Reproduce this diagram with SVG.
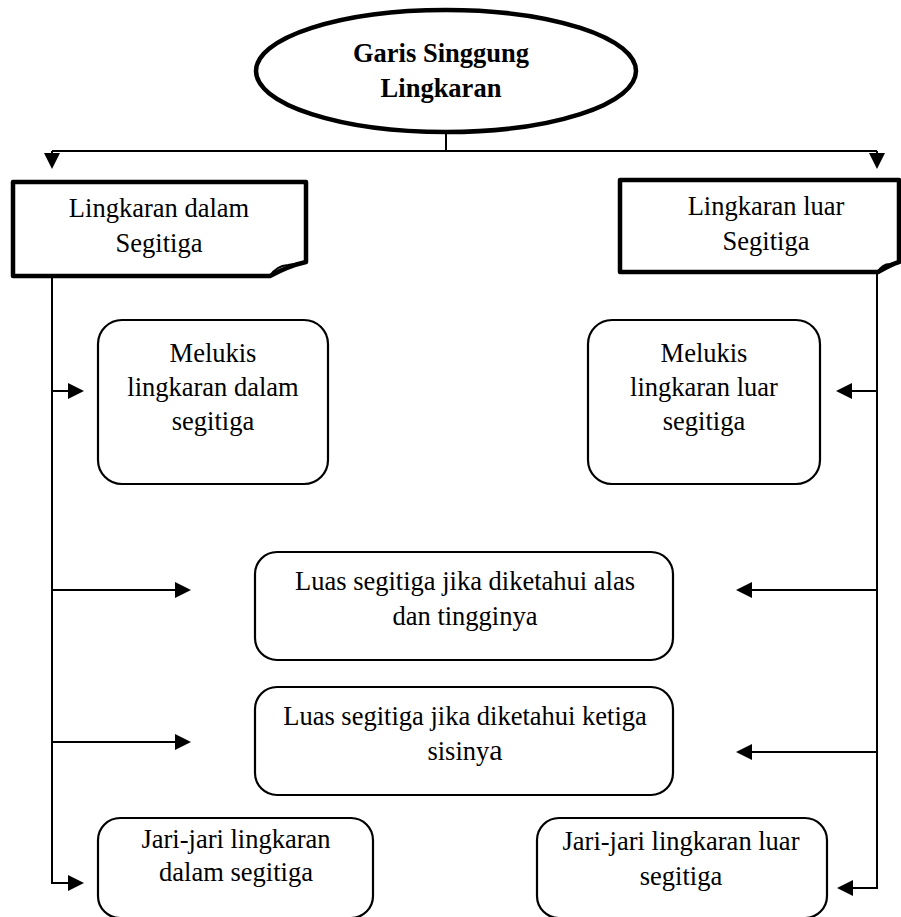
<svg xmlns="http://www.w3.org/2000/svg" width="901" height="917" viewBox="0 0 901 917">
<defs>
<style>
.t{font-family:"Liberation Serif","Times New Roman",serif;font-size:26.5px;fill:#000;text-anchor:middle}
.b{font-weight:bold}
.hdr{fill:#fff;stroke:#000;stroke-width:4.5;stroke-linejoin:round}
.rb{fill:#fff;stroke:#000;stroke-width:2.2}
.ln{fill:none;stroke:#000;stroke-width:2}
.ah{fill:#000;stroke:none}
</style>
</defs>
<rect width="901" height="917" fill="#fff"/>
<g id="connectors">
<path class="ln" d="M446,133 V151 M52,151 H877"/>
<path class="ln" d="M52,151 V156 M877,151 V156"/>
<polygon class="ah" points="44,153 60,153 52,169"/>
<polygon class="ah" points="869,153 885,153 877,169"/>
<path class="ln" d="M52,276 V883 H70"/>
<path class="ln" d="M52,391 H70"/>
<polygon class="ah" points="68,383 84,391 68,399"/>
<path class="ln" d="M52,590 H177"/>
<polygon class="ah" points="175,582 191,590 175,598"/>
<path class="ln" d="M52,742 H177"/>
<polygon class="ah" points="175,734 191,742 175,750"/>
<polygon class="ah" points="68,875 84,883 68,891"/>
<path class="ln" d="M877,272 V888 H851"/>
<path class="ln" d="M877,391 H850"/>
<polygon class="ah" points="852,383 836,391 852,399"/>
<path class="ln" d="M877,590 H750"/>
<polygon class="ah" points="752,582 736,590 752,598"/>
<path class="ln" d="M877,752 H750"/>
<polygon class="ah" points="752,744 736,752 752,760"/>
<polygon class="ah" points="853,880 837,888 853,896"/>
</g>
<g id="root">
<ellipse cx="446" cy="71" rx="190" ry="61" fill="#fff" stroke="#000" stroke-width="4.5"/>
<text class="t b" x="441" y="62">Garis Singgung</text>
<text class="t b" x="441" y="97">Lingkaran</text>
</g>
<g id="dalam">
<path class="hdr" d="M13,182 H306 V262 Q288,266 270,276 H13 Z"/>
<path fill="none" stroke="#000" stroke-width="2" d="M270,276 Q276,266 288,265 L306,262"/>
<text class="t" x="159" y="217">Lingkaran dalam</text>
<text class="t" x="159" y="252">Segitiga</text>
</g>
<g id="luar">
<path class="hdr" d="M620,180 H899 V262 Q892,264 878,272 H620 Z"/>
<path fill="none" stroke="#000" stroke-width="2" d="M878,272 Q882,264 890,264 L899,262"/>
<text class="t" x="766" y="215">Lingkaran luar</text>
<text class="t" x="766" y="250">Segitiga</text>
</g>
<g id="melukis-dalam">
<rect class="rb" x="98" y="320" width="230" height="164" rx="24"/>
<text class="t" x="213" y="362">Melukis</text>
<text class="t" x="213" y="396">lingkaran dalam</text>
<text class="t" x="213" y="430">segitiga</text>
</g>
<g id="melukis-luar">
<rect class="rb" x="588" y="320" width="232" height="164" rx="24"/>
<text class="t" x="704" y="362">Melukis</text>
<text class="t" x="704" y="396">lingkaran luar</text>
<text class="t" x="704" y="430">segitiga</text>
</g>
<g id="luas-alas">
<rect class="rb" x="255" y="552" width="418" height="108" rx="22"/>
<text class="t" x="465" y="590">Luas segitiga jika diketahui alas</text>
<text class="t" x="465" y="625">dan tingginya</text>
</g>
<g id="luas-sisi">
<rect class="rb" x="255" y="687" width="418" height="108" rx="22"/>
<text class="t" x="465" y="725">Luas segitiga jika diketahui ketiga</text>
<text class="t" x="465" y="760">sisiny<tspan font-size="30">a</tspan></text>
</g>
<g id="jari-dalam">
<rect class="rb" x="98" y="818" width="275" height="100" rx="22"/>
<text class="t" x="236" y="848">Jari-jari lingkaran</text>
<text class="t" x="236" y="881">dalam segitiga</text>
</g>
<g id="jari-luar">
<rect class="rb" x="537" y="818" width="290" height="100" rx="22"/>
<text class="t" x="681" y="850">Jari-jari lingkaran luar</text>
<text class="t" x="681" y="885">segitiga</text>
</g>
</svg>
